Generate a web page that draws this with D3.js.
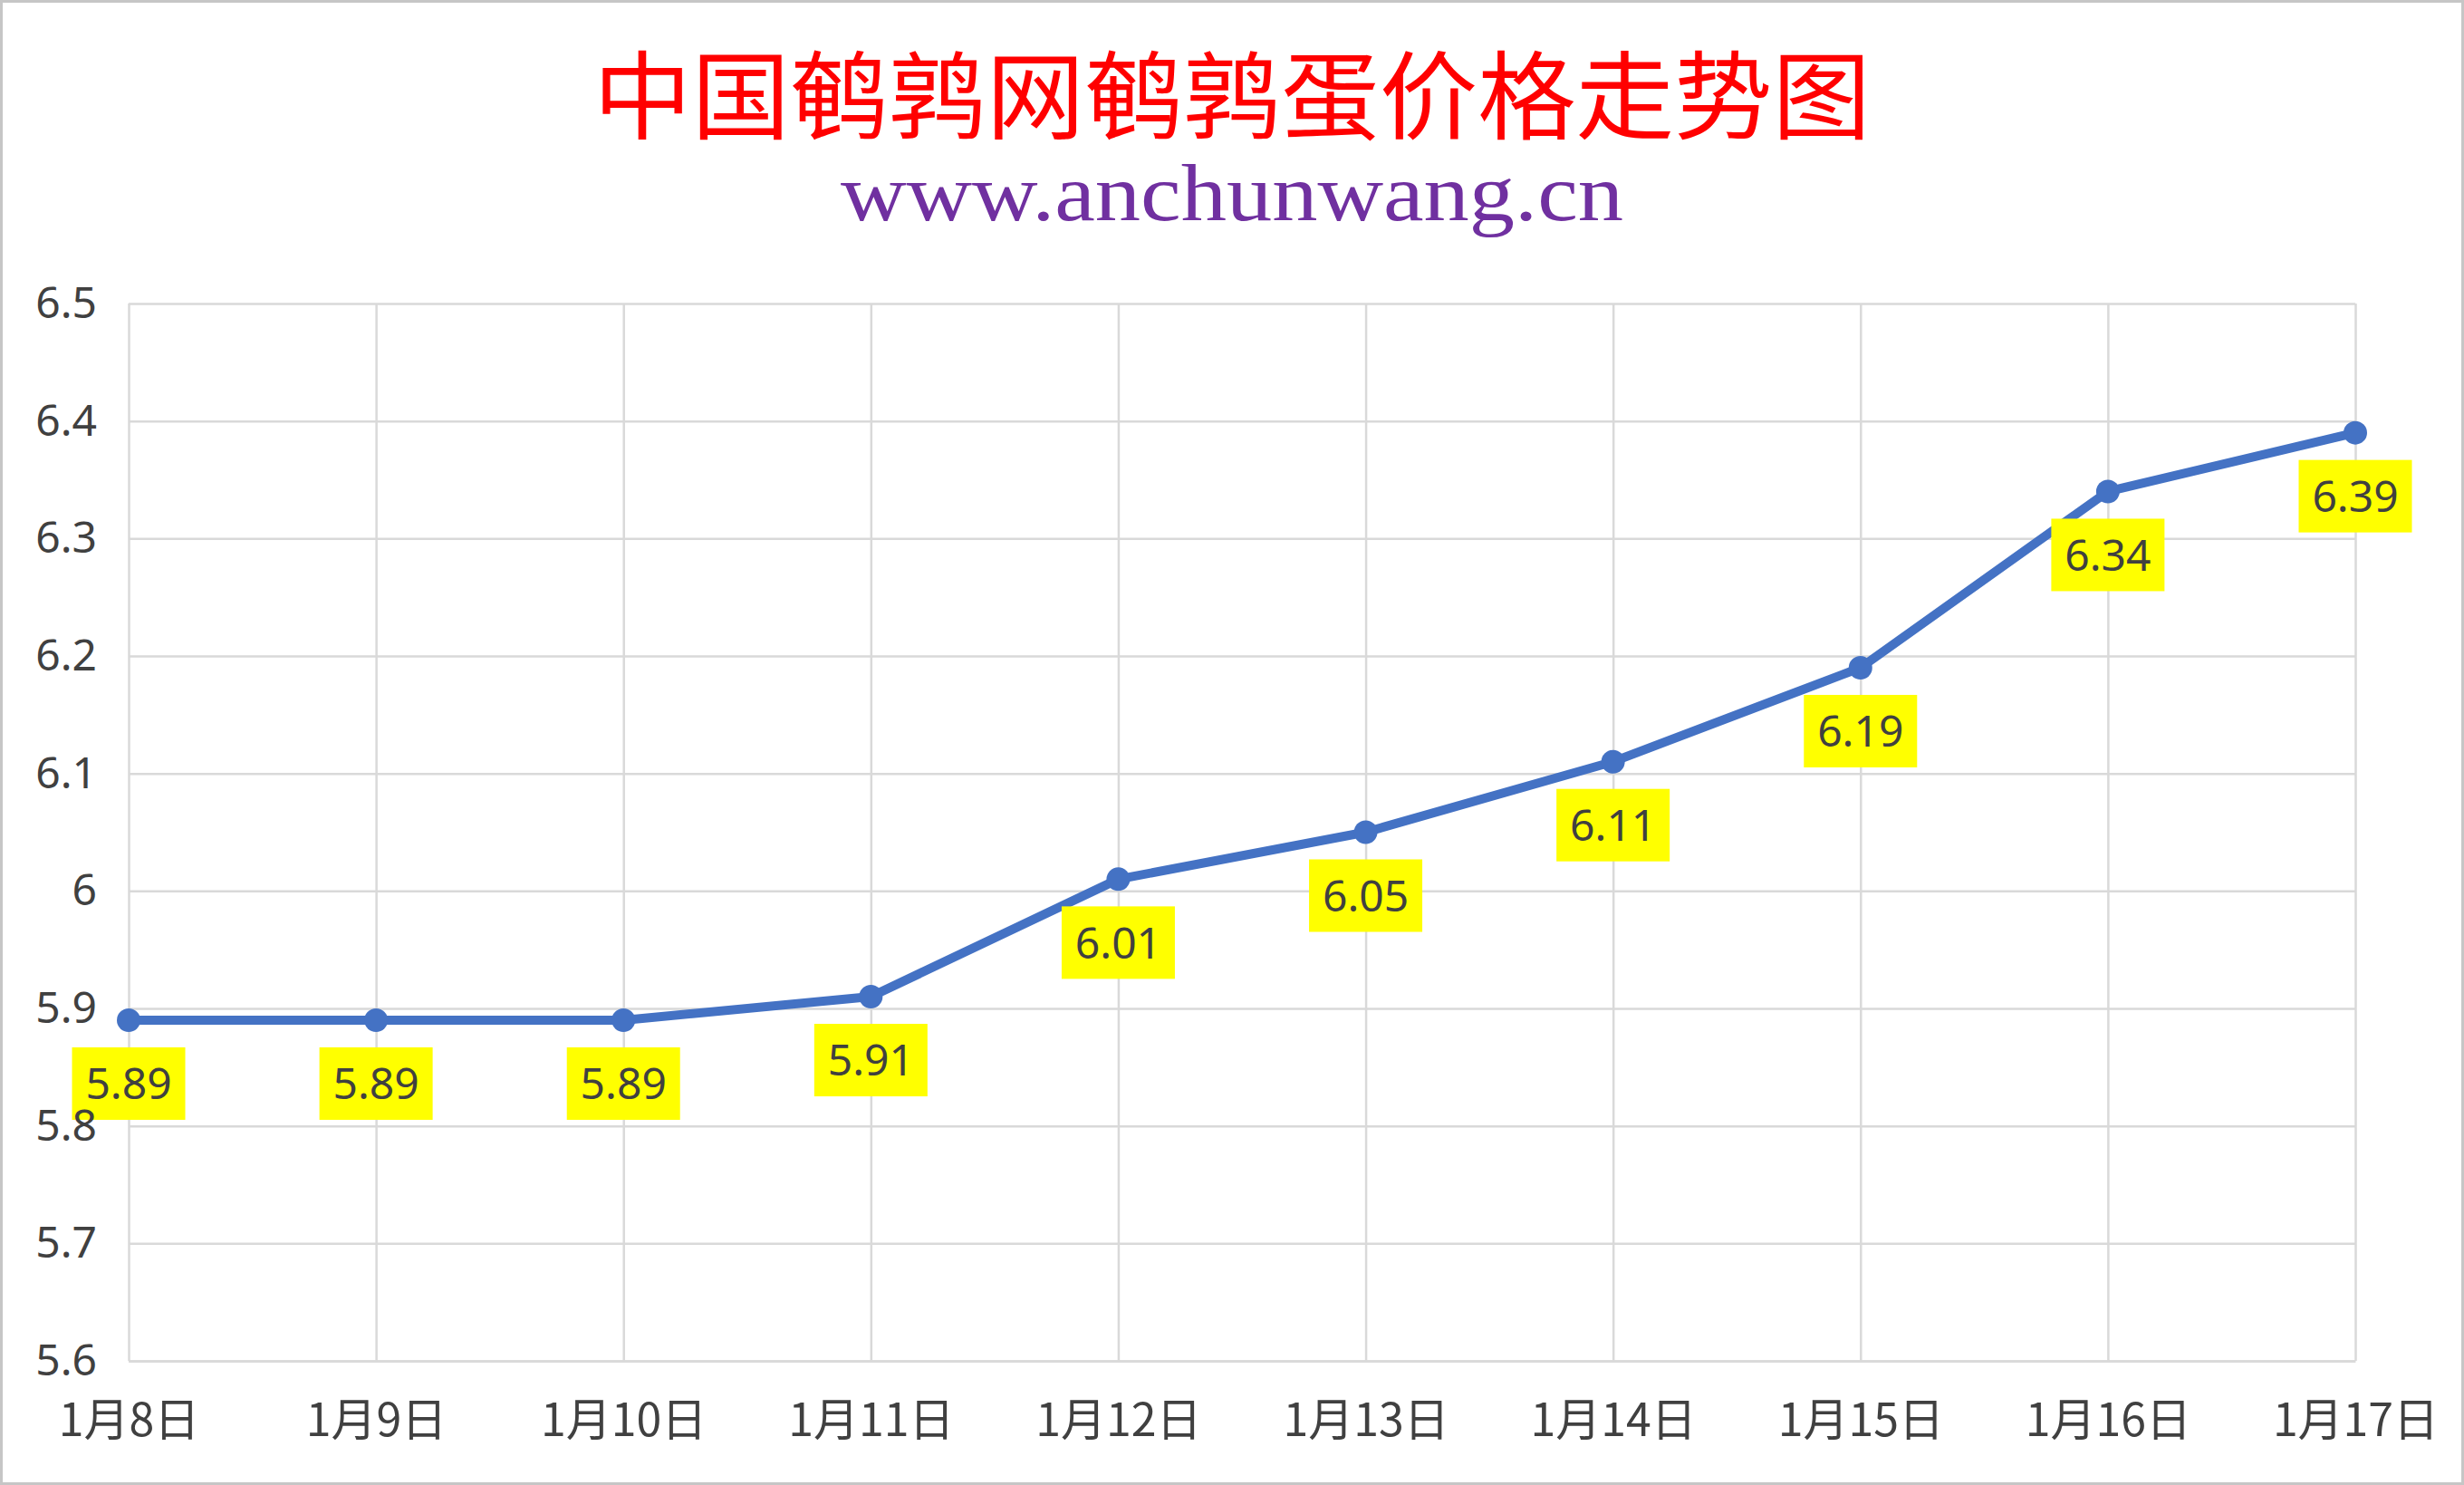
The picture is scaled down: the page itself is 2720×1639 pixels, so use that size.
<!DOCTYPE html>
<html>
<head>
<meta charset="utf-8">
<script src="https://cdn.jsdelivr.net/npm/d3@7"></script>
<style>
  body { margin: 0; background: #fff; }
  svg { display: block; }
</style>
</head>
<body>
<div id="chart"></div>
<script>
const titleText = "中国鹌鹑网鹌鹑蛋价格走势图"
const subtitleText = "www.anchunwang.cn"
const dates = ["1月8日", "1月9日", "1月10日", "1月11日", "1月12日", "1月13日", "1月14日", "1月15日", "1月16日", "1月17日"]
const prices = [5.89, 5.89, 5.89, 5.91, 6.01, 6.05, 6.11, 6.19, 6.34, 6.39]
const yTicks = [5.6, 5.7, 5.8, 5.9, 6.0, 6.1, 6.2, 6.3, 6.4, 6.5]

const W = 2720, H = 1639
const margin = { top: 335, right: 120, bottom: 137, left: 142 }
const width = W - margin.left - margin.right
const height = H - margin.top - margin.bottom
const blue = "#4472C4", grid = "#D9D9D9", ink = "#404040"

const svg = d3.select("#chart").append("svg")
    .attr("width", W)
    .attr("height", H)

svg.append("rect")
    .attr("x", 1.5).attr("y", 1.5)
    .attr("width", W - 3).attr("height", H - 3)
    .attr("fill", "#fff")
    .attr("stroke", "#C6C6C6")
    .attr("stroke-width", 3)

svg.append("text")
    .attr("x", W / 2).attr("y", 99)
    .attr("text-anchor", "middle")
    .attr("dominant-baseline", "central")
    .attr("font-family", "'Noto Sans CJK SC'")
    .attr("font-size", 106)
    .attr("textLength", 1410)
    .attr("lengthAdjust", "spacingAndGlyphs")
    .attr("fill", "#FF0000")
    .text(titleText)

svg.append("text")
    .attr("x", W / 2).attr("y", 243)
    .attr("text-anchor", "middle")
    .attr("font-family", "'Liberation Serif', serif")
    .attr("font-size", 88)
    .attr("textLength", 864)
    .attr("lengthAdjust", "spacingAndGlyphs")
    .attr("fill", "#7030A0")
    .text(subtitleText)

const g = svg.append("g")
    .attr("transform", "translate(" + margin.left + "," + margin.top + ")")

const x = d3.scalePoint().domain(dates).range([0, width]).padding(0)
const y = d3.scaleLinear().domain([5.6, 6.5]).range([height, 0])

// gridlines
const yGrid = g.append("g")
    .call(d3.axisLeft(y).tickValues(yTicks).tickSize(-width).tickFormat(""))
yGrid.select(".domain").remove()
yGrid.selectAll("line").attr("stroke", grid).attr("stroke-width", 2.5)

const xGrid = g.append("g")
    .attr("transform", "translate(0," + height + ")")
    .call(d3.axisBottom(x).tickSize(-height).tickFormat(""))
xGrid.select(".domain").remove()
xGrid.selectAll("line").attr("stroke", grid).attr("stroke-width", 2.5)

// line + markers
const line = d3.line()
    .x(function (d, i) { return x(dates[i]) })
    .y(function (d) { return y(d) })

g.append("path")
    .datum(prices)
    .attr("fill", "none")
    .attr("stroke", blue)
    .attr("stroke-width", 10)
    .attr("stroke-linejoin", "round")
    .attr("d", line)

g.selectAll(".dot")
    .data(prices)
    .enter().append("circle")
    .attr("class", "dot")
    .attr("cx", function (d, i) { return x(dates[i]) })
    .attr("cy", function (d) { return y(d) })
    .attr("r", 13)
    .attr("fill", blue)

// data labels below points
const labels = g.selectAll(".lbl")
    .data(prices)
    .enter().append("g")
    .attr("class", "lbl")
    .attr("transform", function (d, i) { return "translate(" + x(dates[i]) + "," + (y(d) + 70) + ")" })

labels.append("rect")
    .attr("x", -62.5).attr("y", -40)
    .attr("width", 125).attr("height", 80)
    .attr("fill", "#FFFF00")

labels.append("text")
    .attr("text-anchor", "middle")
    .attr("dy", "0.36em")
    .attr("font-family", "'Noto Sans', sans-serif")
    .attr("font-size", 48)
    .attr("fill", ink)
    .text(function (d) { return d3.format(".2f")(d) })

// axes labels
const yAxis = g.append("g")
    .call(d3.axisLeft(y).tickValues(yTicks).tickSize(0).tickPadding(35).tickFormat(d3.format("~g")))
yAxis.select(".domain").remove()
yAxis.selectAll("text")
    .attr("font-family", "'Noto Sans', sans-serif")
    .attr("font-size", 48)
    .attr("fill", ink)

const xAxis = g.append("g")
    .attr("transform", "translate(0," + height + ")")
    .call(d3.axisBottom(x).tickSize(0))
xAxis.select(".domain").attr("stroke", grid).attr("stroke-width", 2.5)
xAxis.selectAll("text")
    .attr("y", 65)
    .attr("dy", "0.35em")
    .attr("font-family", "'Noto Sans CJK SC', sans-serif")
    .attr("font-size", 50)
    .attr("fill", ink)
</script>
</body>
</html>
